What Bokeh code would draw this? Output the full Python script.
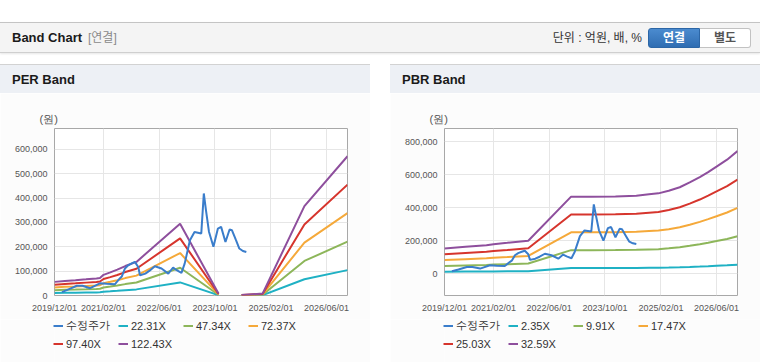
import numpy as np
import pandas as pd
from bokeh.plotting import figure
from bokeh.models import (Range1d, FixedTicker, NumeralTickFormatter, Legend, LegendItem,
                          Title, Div, Spacer, GlobalInlineStyleSheet)
from bokeh.layouts import column, row
from bokeh.embed import file_html
from bokeh.resources import INLINE

# ---------------- data ----------------
price_dates = ["2020-02-04", "2020-04-01", "2020-06-13", "2020-08-01", "2020-10-07", "2021-01-01",
               "2021-03-01", "2021-05-10", "2021-06-25", "2021-07-10", "2021-08-07", "2021-09-04",
               "2021-10-05", "2021-11-01", "2021-12-01", "2021-12-16", "2022-02-01", "2022-03-10",
               "2022-04-25", "2022-06-22", "2022-08-20", "2022-10-01", "2022-11-01", "2022-12-13",
               "2023-01-10", "2023-02-25", "2023-04-06", "2023-06-04", "2023-06-26", "2023-07-15",
               "2023-08-10", "2023-09-18", "2023-10-27", "2023-11-24", "2024-01-01", "2024-02-06",
               "2024-02-27", "2024-04-01", "2024-05-01", "2024-06-01", "2024-07-01"]
price_vals = [14000, 25000, 40000, 40000, 30000, 50000,
              48000, 46000, 71000, 78000, 111000, 124000,
              132000, 138000, 117000, 83000, 90000, 102000,
              120000, 111000, 90000, 115000, 104000, 93000,
              131000, 227000, 261000, 255000, 419000, 350000,
              262000, 200000, 275000, 282000, 220000, 271000,
              268000, 228000, 193000, 183000, 179000]

# EPS (원): PER band line = multiple x EPS
per_dates = ["2019-12-01", "2020-03-01", "2020-06-01", "2020-09-01", "2020-12-01", "2021-01-01",
             "2021-02-01", "2021-04-01", "2021-06-01", "2021-08-10", "2021-11-15", "2022-12-01",
             "2023-11-01", "2024-02-01", "2024-05-21", "2024-11-20", "2025-11-20", "2026-12-01"]
per_eps = [457, 490, 515, 543, 572, 588,
           694, 776, 866, 988, 1127, 2410,
           65, np.nan, 16, 65, 2998, 4672]
per_multiples = [22.31, 47.34, 72.37, 97.40, 122.43]
per_labels = ["22.31X", "47.34X", "72.37X", "97.40X", "122.43X"]

# BPS (원): PBR band line = multiple x BPS
pbr_dates = ["2019-12-01", "2020-06-01", "2020-12-01", "2021-02-01", "2021-06-01", "2021-12-01",
             "2022-12-10", "2023-06-01", "2024-01-01", "2024-07-01", "2024-10-20", "2025-01-10",
             "2025-04-10", "2025-07-15", "2025-10-10", "2026-01-06", "2026-03-20", "2026-06-01",
             "2026-09-01", "2026-12-01"]
pbr_bps = [4664, 4971, 5278, 5462, 5707, 6106,
           14299, 14299, 14330, 14483, 14729, 14913,
           15403, 16048, 16938, 17920, 18871, 19883,
           21172, 22768]
pbr_multiples = [2.35, 9.91, 17.47, 25.03, 32.59]
pbr_labels = ["2.35X", "9.91X", "17.47X", "25.03X", "32.59X"]

price_label = "수정주가"
unit_label = "(원)"
x_start, x_end = "2019-12-01", "2026-12-01"
x_ticks = ["2019-12-01", "2021-02-01", "2022-06-01", "2023-10-01", "2025-02-01", "2026-06-01"]
per_y_range = (0, 686000)
per_y_ticks = [0, 100000, 200000, 300000, 400000, 500000, 600000]
pbr_y_range = (-133000, 879000)
pbr_y_ticks = [0, 200000, 400000, 600000, 800000]

# ---------------- style ----------------
PRICE_COLOR = "#3a7dcb"
BAND_COLORS = ["#1fb1c4", "#8db65a", "#f5a93a", "#d6352d", "#8e4f9d"]
PANEL_BG = "#fcfcfc"
FONT = "Liberation Sans"
FONT_CSS = "'Liberation Sans','Noto Sans CJK KR',sans-serif"


def ms(d):
    return int(pd.Timestamp(d).value // 10**6)


def make_chart(band_dates, base, multiples, yrange, yticks):
    p = figure(width=370, height=226, frame_width=293, frame_height=167, x_axis_type="datetime",
               x_range=Range1d(ms(x_start), ms(x_end)), y_range=Range1d(*yrange),
               output_backend="svg", toolbar_location=None,
               min_border_left=54, min_border_right=23, min_border_top=35, min_border_bottom=24)
    p.border_fill_color = PANEL_BG
    p.background_fill_color = "#ffffff"
    p.outline_line_color = "#a8a8a8"
    p.outline_line_width = 1

    bx = pd.to_datetime(band_dates)
    base_arr = np.array(base, dtype=float)
    for m, c in zip(multiples, BAND_COLORS):
        p.line(bx, base_arr * m, line_color=c, line_width=2)
    p.line(pd.to_datetime(price_dates), price_vals, line_color=PRICE_COLOR, line_width=2)

    xt = [ms(d) for d in x_ticks]
    p.xaxis.ticker = FixedTicker(ticks=xt)
    p.xaxis.major_label_overrides = {t: pd.Timestamp(d).strftime("%Y/%m/%d") for t, d in zip(xt, x_ticks)}
    p.yaxis.ticker = FixedTicker(ticks=yticks)
    p.yaxis.formatter = NumeralTickFormatter(format="0,0")

    p.axis.axis_line_color = None
    p.axis.major_tick_line_color = None
    p.axis.minor_tick_line_color = None
    p.axis.major_tick_out = 0
    p.axis.major_tick_in = 0
    p.axis.major_label_text_font = FONT
    p.axis.major_label_text_font_size = "9px"
    p.axis.major_label_text_color = "#555555"
    p.axis.major_label_standoff = 7
    p.grid.grid_line_color = "#e6e6e6"
    p.grid.grid_line_width = 1

    # unit caption above the y axis
    p.add_layout(Title(text=unit_label, align="left", offset=-15, standoff=8,
                       text_font=FONT, text_font_size="11px", text_font_style="normal",
                       text_color="#555555"), "above")
    return p


def make_legend(labels):
    lp = figure(width=370, height=43, frame_width=370, frame_height=43,
                x_range=Range1d(0, 1), y_range=Range1d(0, 1),
                x_axis_location=None, y_axis_location=None,
                output_backend="svg", toolbar_location=None, min_border=0)
    lp.border_fill_color = PANEL_BG
    lp.background_fill_color = PANEL_BG
    lp.outline_line_color = None
    lp.grid.visible = False
    # key renderers: same styles as the chart series, placed outside the visible range
    off_x, off_y = [-3, -2], [-3, -2]
    items = []
    rp = lp.line(x=off_x, y=off_y, line_color=PRICE_COLOR, line_width=2)
    items.append(LegendItem(label=price_label, renderers=[rp]))
    for lab, c in zip(labels, BAND_COLORS):
        r = lp.line(x=off_x, y=off_y, line_color=c, line_width=2)
        items.append(LegendItem(label=lab, renderers=[r]))
    legend = Legend(items=items, orientation="horizontal", ncols=4, location=(53, 12),
                    glyph_width=10, glyph_height=13, label_height=13,
                    label_width=48, label_standoff=3, spacing=4, padding=0, margin=0,
                    border_line_alpha=0, background_fill_alpha=0,
                    label_text_font=FONT, label_text_font_size="11px",
                    label_text_line_height=1.0, label_text_color="#333333")
    lp.add_layout(legend, "center")
    return lp


p_per = make_chart(per_dates, per_eps, per_multiples, per_y_range, per_y_ticks)
p_pbr = make_chart(pbr_dates, pbr_bps, pbr_multiples, pbr_y_range, pbr_y_ticks)
l_per = make_legend(per_labels)
l_pbr = make_legend(pbr_labels)

header_html = f"""
<div style="position:relative;width:760px;height:93px;font-family:{FONT_CSS};overflow:hidden;">
 <div style="position:absolute;left:0;top:22px;width:760px;height:31px;box-sizing:border-box;background:#f4f4f4;border-top:1px solid #c4c4c4;border-bottom:1px solid #cfcfcf;box-shadow:0 1px 2px rgba(0,0,0,0.10);"></div>
 <div style="position:absolute;left:12px;top:30px;line-height:16px;font-size:13px;font-weight:bold;color:#1a1a1a;">Band Chart</div>
 <div style="position:absolute;left:88px;top:30px;line-height:16px;font-size:12px;color:#8a8a8a;">[연결]</div>
 <div style="position:absolute;right:118px;top:30px;line-height:16px;font-size:12px;color:#333;">단위 : 억원, 배, %</div>
 <div style="position:absolute;left:648px;top:28px;width:52px;height:20px;box-sizing:border-box;background:linear-gradient(#4b8bcf,#2f6db2);border:1px solid #2c66a6;border-radius:3px 0 0 3px;color:#fff;font-size:12px;font-weight:bold;text-align:center;line-height:18px;">연결</div>
 <div style="position:absolute;left:700px;top:28px;width:51px;height:20px;box-sizing:border-box;background:#fff;border:1px solid #c2c2c2;border-left:none;border-radius:0 3px 3px 0;color:#555;font-size:12px;font-weight:bold;text-align:center;line-height:18px;">별도</div>
 <div style="position:absolute;left:0;top:64px;width:370px;height:29px;box-sizing:border-box;background:#edf0f5;border-top:1px solid #d2d2d2;"></div>
 <div style="position:absolute;left:390px;top:64px;width:370px;height:29px;box-sizing:border-box;background:#edf0f5;border-top:1px solid #d2d2d2;"></div>
 <div style="position:absolute;left:12px;top:72px;line-height:16px;font-size:13px;font-weight:bold;color:#1a1a1a;">PER Band</div>
 <div style="position:absolute;left:402px;top:72px;line-height:16px;font-size:13px;font-weight:bold;color:#1a1a1a;">PBR Band</div>
</div>
"""
header = Div(text=header_html, width=760, height=93, margin=0)

bottom_html = """
<div style="position:relative;width:760px;height:1px;overflow:hidden;">
 <div style="position:absolute;left:0;top:0;width:370px;height:1px;background:#d5d5d5;"></div>
 <div style="position:absolute;left:390px;top:0;width:370px;height:1px;background:#d5d5d5;"></div>
</div>
"""
bottom = Div(text=bottom_html, width=760, height=1, margin=0)

left_panel = column(p_per, l_per, spacing=0, margin=0)
right_panel = column(p_pbr, l_pbr, spacing=0, margin=0)
charts = row(left_panel, Spacer(width=20, height=269, margin=0), right_panel, spacing=0, margin=0)
layout = column(header, charts, bottom, spacing=0, margin=0,
                stylesheets=[GlobalInlineStyleSheet(css="html, body { margin: 0 !important; padding: 0 !important; overflow: hidden; background: #ffffff; }")])

open("out.html", "w").write(file_html(layout, INLINE))
